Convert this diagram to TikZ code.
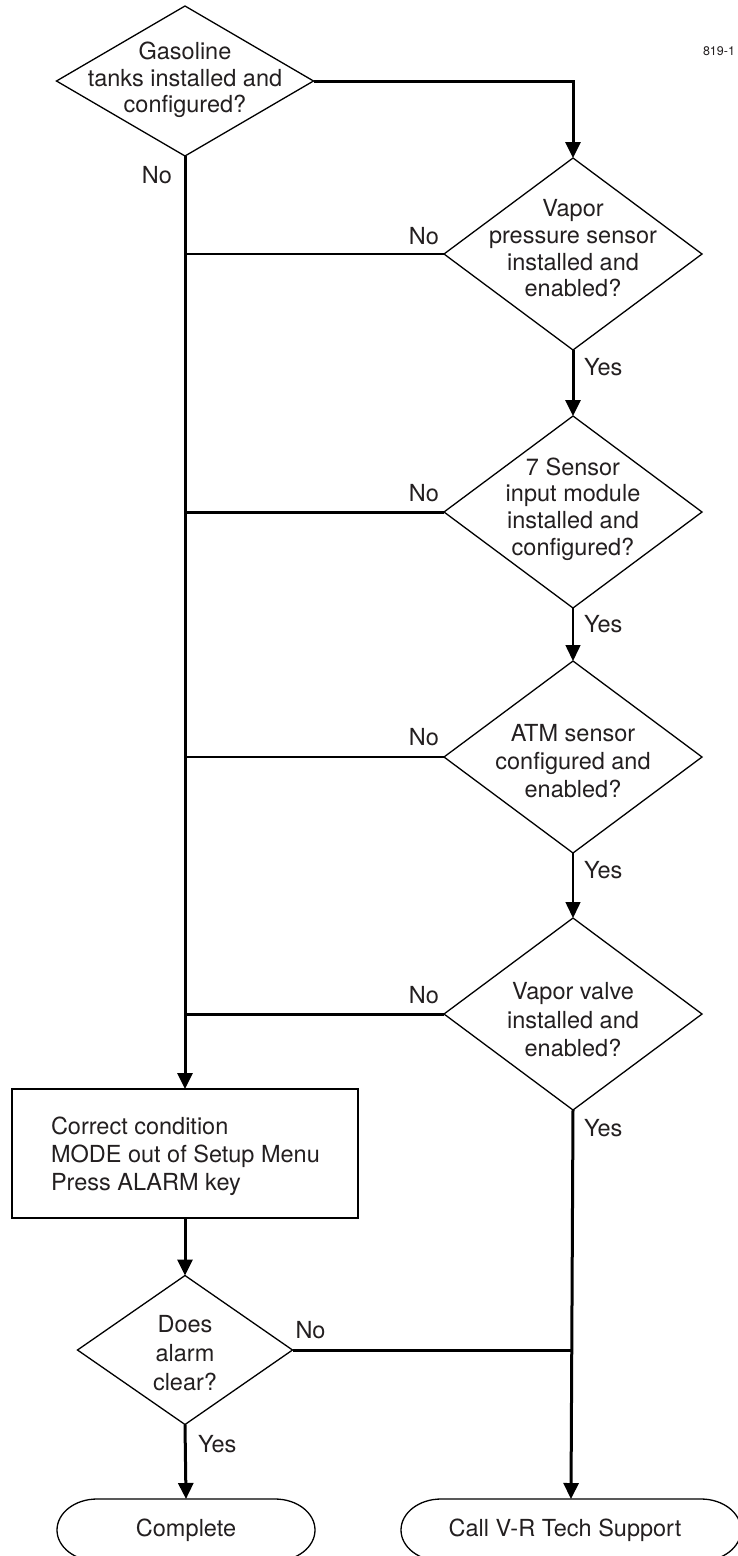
\documentclass[tikz,border=0pt]{standalone}
\usepackage{fontspec}
\setmainfont{TeX Gyre Heros}
\usetikzlibrary{shapes.geometric,arrows.meta}
\definecolor{ink}{HTML}{231F20}
\begin{document}
\begin{tikzpicture}[x=1pt,y=1pt,
  every node/.style={inner sep=0pt, outer sep=0pt},
  chartfont/.style={font=\fontsize{23.5}{#1}\selectfont, text=ink},
  chartfont/.default=28,
  decision/.style={diamond, draw=black, line width=1.3pt,
    minimum width=258pt, minimum height=192pt},
  qtext/.style={chartfont=#1, align=center},
  qtext/.default=28,
  action/.style={rectangle, draw=black, line width=1.5pt,
    minimum width=346pt, minimum height=129pt},
  terminal/.style={rectangle, minimum width=#1, minimum height=62pt},
  termline/.style={draw=black, line width=1.3pt},
  heavy/.style={draw=black, line width=3pt},
  light/.style={draw=black, line width=1.5pt},
  flowtip/.style={-{Triangle[length=16pt,width=15pt]}},
]
\useasboundingbox (0,0) rectangle (738,-1556);

% decisions
\node[decision, minimum width=257pt, minimum height=150pt] (d1) at (185,-81) {};
\node[qtext=26.5] (d1q) at ([yshift=1pt]d1.center) {Gasoline\\tanks installed and\\configured?};

\node[decision] (d2) at (573,-254) {};
\node[qtext=26.7] (d2q) at ([yshift=5.5pt]d2.center) {Vapor\\pressure sensor\\installed and\\enabled?};

\node[decision] (d3) at (573,-512) {};
\node[qtext=26.7] (d3q) at ([yshift=3pt]d3.center) {7 Sensor\\input module\\installed and\\configured?};

\node[decision] (d4) at (573,-757) {};
\node[qtext=28] (d4q) at ([yshift=-4.5pt]d4.center) {ATM sensor\\configured and\\enabled?};

\node[decision] (d5) at (573,-1014) {};
\node[qtext=28.5] (d5q) at ([yshift=-6pt]d5.center) {Vapor valve\\installed and\\enabled?};

% corrective action
\node[action] (box) at (185,-1153.5) {};
\node[chartfont=28, align=left, anchor=west] (boxq) at ([shift={(39pt,-2.5pt)}]box.west)
  {Correct condition\\MODE out of Setup Menu\\Press ALARM key};

\node[decision, minimum width=215pt, minimum height=149pt] (d6) at (185,-1350) {};
\node[qtext=29] (d6q) at ([yshift=-3.5pt]d6.center) {Does\\alarm\\clear?};

% terminals
\node[terminal=258pt, chartfont] (t1) at (186,-1530) {Complete};
\draw[termline] ([xshift=40pt]t1.north west) -- ([xshift=-40pt]t1.north east)
  arc[start angle=90, end angle=-90, x radius=40pt, y radius=31pt]
  -- ([xshift=40pt]t1.south west)
  arc[start angle=270, end angle=90, x radius=40pt, y radius=31pt] -- cycle;

\node[terminal=340pt] (t2) at (571,-1530) {};
\node[chartfont] (t2q) at ([xshift=-6pt]t2.center) {Call V-R Tech Support};
\draw[termline] ([xshift=40pt]t2.north west) -- ([xshift=-40pt]t2.north east)
  arc[start angle=90, end angle=-90, x radius=40pt, y radius=31pt]
  -- ([xshift=40pt]t2.south west)
  arc[start angle=270, end angle=90, x radius=40pt, y radius=31pt] -- cycle;

% figure number
\node[font=\fontsize{12.5}{14}\selectfont, text=ink, anchor=base east] (fig) at (735,-55) {819-1};

% connectors
\draw[heavy, flowtip] (d1.south) -- (box.north);
\draw[heavy, flowtip] (d1.east) -| (d2.north);
\draw[light] (d2.west) -- (d2.west -| d1.south);
\draw[heavy, flowtip] (d2.south) -- (d3.north);
\draw[heavy] (d3.west) -- (d3.west -| d1.south);
\draw[light, flowtip] (d3.south) -- (d4.north);
\draw[light] (d4.west) -- (d4.west -| d1.south);
\draw[light, flowtip] (d4.south) -- (d5.north);
\draw[heavy] (d5.west) -- (d5.west -| d1.south);
\draw[heavy, flowtip] (d5.south) -- (t2.north);
\draw[heavy, flowtip] (box.south) -- (d6.north);
\draw[heavy] (d6.east) -- (d6.east -| d5.south);
\draw[heavy, flowtip] (d6.south) -- (t1.north);

% branch labels
\node[chartfont, anchor=base east] (n1) at ([shift={(-13pt,-27pt)}]d1.south) {No};
\node[chartfont, anchor=base east] (n2) at ([shift={(-5pt,10pt)}]d2.west) {No};
\node[chartfont, anchor=base east] (n3) at ([shift={(-5pt,11pt)}]d3.west) {No};
\node[chartfont, anchor=base east] (n4) at ([shift={(-5pt,12pt)}]d4.west) {No};
\node[chartfont, anchor=base east] (n5) at ([shift={(-5pt,11pt)}]d5.west) {No};
\node[chartfont, anchor=base west] (n6) at ([shift={(3pt,12pt)}]d6.east) {No};
\node[chartfont, anchor=base west] (y2) at ([shift={(11pt,-25pt)}]d2.south) {Yes};
\node[chartfont, anchor=base west] (y3) at ([shift={(11pt,-24pt)}]d3.south) {Yes};
\node[chartfont, anchor=base west] (y4) at ([shift={(11pt,-25pt)}]d4.south) {Yes};
\node[chartfont, anchor=base west] (y5) at ([shift={(11pt,-26pt)}]d5.south) {Yes};
\node[chartfont, anchor=base west] (y6) at ([shift={(13pt,-28pt)}]d6.south) {Yes};
\end{tikzpicture}
\end{document}
